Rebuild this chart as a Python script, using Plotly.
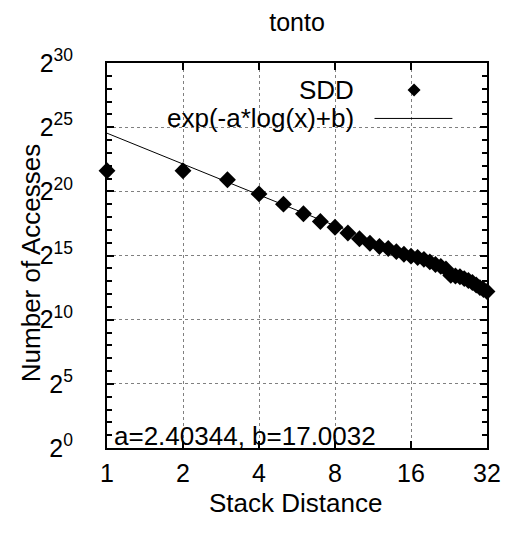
import plotly.graph_objects as go
import math

# ---- data ----
stack_distance = list(range(1, 33))
log2_accesses = [21.6, 21.6, 20.9, 19.8, 19.0, 18.25, 17.65, 17.2, 16.75, 16.3,
                 15.95, 15.7, 15.55, 15.3, 15.1, 14.95, 14.85, 14.7, 14.5, 14.3,
                 14.15, 13.95, 13.45, 13.4, 13.35, 13.2, 13.05, 12.9, 12.7, 12.5,
                 12.35, 12.2]
accesses = [2 ** e for e in log2_accesses]
fit_a = 2.40344
fit_b = 17.0032
x_ticks = [1, 2, 4, 8, 16, 32]
x_ticktext = ["1", "2", "4", "8", "16", "32"]
y_tick_exps = [0, 5, 10, 15, 20, 25, 30]

fit_x = [1 + i * 31 / 200 for i in range(201)]
fit_y = [math.exp(-fit_a * math.log(v) + fit_b) for v in fit_x]

FONT = "Liberation Sans, Arial, sans-serif"
FS = 26
TFS = 25

fig = go.Figure()
fig.add_trace(go.Scatter(x=fit_x, y=fit_y, mode="lines",
                         line=dict(color="black", width=1),
                         showlegend=False, hoverinfo="skip"))
fig.add_trace(go.Scatter(x=stack_distance, y=accesses, mode="markers",
                         marker=dict(symbol="diamond", size=13, color="black",
                                     line=dict(width=0)),
                         cliponaxis=False, showlegend=False))

fig.update_layout(
    width=513, height=536,
    margin=dict(l=107, r=21, t=63, b=88),
    paper_bgcolor="white", plot_bgcolor="white",
    font=dict(family=FONT, size=FS, color="black"),
    title=dict(text="tonto", x=0.5, xref="paper", xanchor="center",
               y=1 - 22 / 536, yref="container", yanchor="middle",
               font=dict(size=25)),
    showlegend=False,
)

fig.update_xaxes(
    type="log", range=[0, math.log10(32)],
    tickmode="array", tickvals=x_ticks, ticktext=x_ticktext,
    tickfont=dict(size=TFS),
    ticks="inside", ticklen=7, tickwidth=1.5, tickcolor="black",
    showline=True, linecolor="black", linewidth=2, mirror="ticks",
    showgrid=True, gridcolor="#808080", griddash="dot", gridwidth=1,
    zeroline=False, ticklabelstandoff=2,
)

fig.update_yaxes(
    type="log", range=[0, 30 * math.log10(2)],
    tickmode="array", tickvals=[2 ** e for e in y_tick_exps],
    ticktext=["2<sup>%d</sup>" % e for e in y_tick_exps],
    tickfont=dict(size=TFS),
    ticks="inside", ticklen=7, tickwidth=1.5, tickcolor="black",
    showline=True, linecolor="black", linewidth=2, mirror="ticks",
    showgrid=True, gridcolor="#808080", griddash="dot", gridwidth=1,
    zeroline=False, ticklabelstandoff=27,
    minor=dict(tickmode="array", tickvals=[2 ** k for k in range(31)],
               ticks="inside", ticklen=5, tickwidth=1.5, tickcolor="black",
               showgrid=False),
)

# axis titles
fig.add_annotation(text="Stack Distance", xref="paper", yref="paper",
                   x=0.495, y=-0.143, xanchor="center", yanchor="middle",
                   showarrow=False, font=dict(size=FS))
fig.add_annotation(text="Number of Accesses", xref="paper", yref="paper",
                   x=-0.20, y=0.48, xanchor="center", yanchor="middle",
                   textangle=-90, showarrow=False, font=dict(size=FS))

# custom key (gnuplot style: text then sample on the right)
fig.add_annotation(text="SDD", xref="paper", yref="paper", x=0.656, y=0.930,
                   xanchor="right", yanchor="middle", showarrow=False,
                   font=dict(size=FS))
fig.add_annotation(text="exp(-a*log(x)+b)", xref="paper", yref="paper",
                   x=0.656, y=0.857, xanchor="right", yanchor="middle",
                   showarrow=False, font=dict(size=FS))
fig.add_shape(type="path", xref="paper", yref="paper",
              xsizemode="pixel", ysizemode="pixel", xanchor=0.808, yanchor=0.930,
              path="M 0,6.5 L 6.5,0 L 0,-6.5 L -6.5,0 Z",
              fillcolor="black", line=dict(width=0))
fig.add_shape(type="line", xref="paper", yref="paper",
              x0=0.704, x1=0.909, y0=0.856, y1=0.856,
              line=dict(color="black", width=1))
fig.add_annotation(text="a=2.40344, b=17.0032", xref="paper", yref="paper",
                   x=0.014, y=0.031, xanchor="left", yanchor="middle",
                   showarrow=False, font=dict(size=FS))

fig.write_html("out.html")
